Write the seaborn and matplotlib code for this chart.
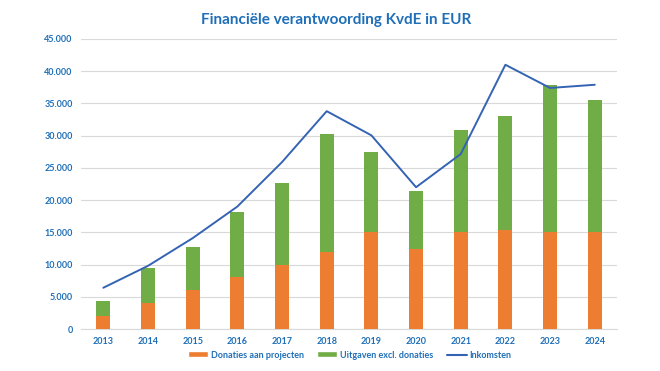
import matplotlib.pyplot as plt
import matplotlib.ticker as mticker
from matplotlib.lines import Line2D
from matplotlib.patches import Patch
import numpy as np
import pandas as pd
import seaborn as sns


years = ["2013", "2014", "2015", "2016", "2017", "2018", "2019", "2020", "2021", "2022", "2023", "2024"]
donaties = [2000, 4000, 6000, 8000, 10000, 12000, 15000, 12400, 15000, 15400, 15000, 15000]
uitgaven = [2400, 5500, 6750, 10100, 12700, 18200, 12500, 9050, 15900, 17700, 22900, 20500]
inkomsten = [6400, 9800, 14100, 19000, 25900, 33800, 30050, 22000, 27150, 41000, 37400, 37900]

ORANGE = "#ED7D31"
GREEN = "#70AD47"
LINE = "#3563B4"
BLUE_TEXT = "#1F6FB8"

sns.set_style("white")
plt.rcParams["font.family"] = ["Lato", "DejaVu Sans"]

df = pd.DataFrame({"year": years, "donaties": donaties, "uitgaven": uitgaven, "inkomsten": inkomsten})
df["totaal"] = df["donaties"] + df["uitgaven"]

fig = plt.figure(figsize=(6.6, 3.71), dpi=100)
ax = fig.add_axes([0.1227, 0.1132, 0.8123, 0.7817])

# stacked bars: draw the total in green, then the donations in orange over it
sns.barplot(data=df, x="year", y="totaal", color=GREEN, width=0.31, saturation=1,
            linewidth=0, ax=ax, zorder=2)
sns.barplot(data=df, x="year", y="donaties", color=ORANGE, width=0.31, saturation=1,
            linewidth=0, ax=ax, zorder=3)
sns.lineplot(x=np.arange(len(years)), y=df["inkomsten"], color=LINE, linewidth=1.4, ax=ax, zorder=4)

ax.set_xlim(-0.5, len(years) - 0.5)
ax.set_ylim(0, 45000)
ax.set_yticks(range(0, 45001, 5000))
ax.yaxis.set_major_formatter(mticker.FuncFormatter(lambda v, _: "0" if v == 0 else f"{int(v):,}".replace(",", ".")))
ax.grid(axis="y", color="#D9D9D9", linewidth=0.8, zorder=0)
ax.set_axisbelow(True)
for side in ["top", "right", "left"]:
    ax.spines[side].set_visible(False)
ax.spines["bottom"].set_color("#D9D9D9")
ax.set_xlabel("")
ax.set_ylabel("")
ax.tick_params(axis="both", length=0, labelsize=6.5, labelcolor=BLUE_TEXT, pad=6)
for lbl in ax.get_xticklabels() + ax.get_yticklabels():
    lbl.set_fontweight("bold")

fig.text(0.51, 0.945, "Financiële verantwoording KvdE in EUR", ha="center", va="center",
         fontsize=11, fontweight="bold", color=BLUE_TEXT)

handles = [
    Patch(facecolor=ORANGE, label="Donaties aan projecten"),
    Patch(facecolor=GREEN, label="Uitgaven excl. donaties"),
    Line2D([0], [0], color=LINE, linewidth=1.5, label="Inkomsten"),
]
leg = fig.legend(handles=handles, loc="center", bbox_to_anchor=(0.53, 0.043), ncol=3, frameon=False,
                 fontsize=6.5, handlelength=2.2, handleheight=0.6, columnspacing=1.5, handletextpad=0.3)
for t in leg.get_texts():
    t.set_color(BLUE_TEXT)
    t.set_fontweight("bold")

fig.savefig("out.png", dpi=100)
